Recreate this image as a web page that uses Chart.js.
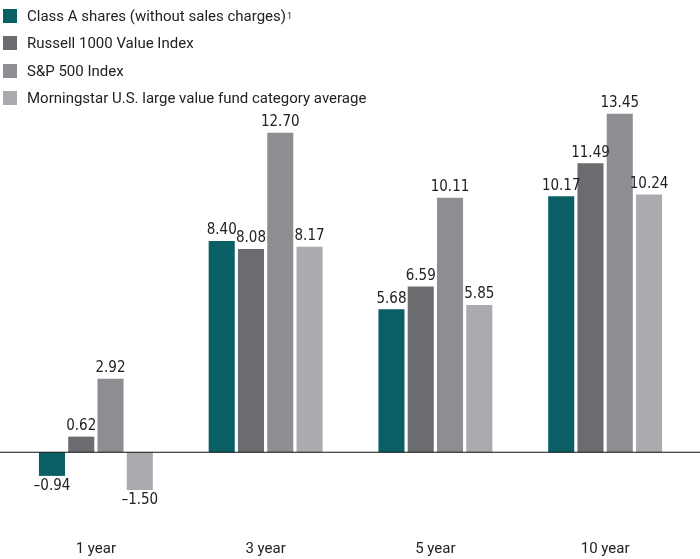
<!DOCTYPE html>
<html>
<head>
<meta charset="utf-8">
<script src="https://cdn.jsdelivr.net/npm/chart.js@4"></script>
<style>
  body { margin: 0; background: #fff; }
  #wrap { position: relative; width: 700px; height: 559px; }
  #legend { position: absolute; left: 3px; top: 2px; font-family: Roboto, 'Liberation Sans', sans-serif; font-size: 15px; color: #222; }
  #legend div { height: 27.5px; display: flex; align-items: center; }
  #legend span.box { display: inline-block; width: 14px; height: 14px; margin-right: 10px; }
  sup { font-size: 9px; vertical-align: 7px; margin-left: 1px; }
</style>
</head>
<body>
<div id="wrap">
  <canvas id="chart" width="700" height="559"></canvas>
  <div id="legend"></div>
</div>
<script>
const periods = ['1 year', '3 year', '5 year', '10 year'];
const seriesNames = ['Class A shares (without sales charges)', 'Russell 1000 Value Index', 'S&P 500 Index', 'Morningstar U.S. large value fund category average'];
const classA = [-0.94, 8.40, 5.68, 10.17];
const russell = [0.62, 8.08, 6.59, 11.49];
const sp500 = [2.92, 12.70, 10.11, 13.45];
const morningstar = [-1.50, 8.17, 5.85, 10.24];
const colors = ['#0a5f66', '#6b6c70', '#8d8e92', '#aaabae'];

const allValues = [classA, russell, sp500, morningstar];

// legend in html, stacked on the left
const legendEl = document.getElementById('legend');
seriesNames.forEach((name, i) => {
  const row = document.createElement('div');
  const box = document.createElement('span');
  box.className = 'box';
  box.style.background = colors[i];
  row.appendChild(box);
  row.appendChild(document.createTextNode(name));
  if (i === 0) {
    const s = document.createElement('sup');
    s.textContent = '1';
    row.appendChild(s);
  }
  legendEl.appendChild(row);
});

const fmt = (v) => (v < 0 ? '\u2013' : '') + Math.abs(v).toFixed(2);

const valueLabels = {
  id: 'valueLabels',
  afterDatasetsDraw(chart) {
    const ctx = chart.ctx;
    ctx.save();
    ctx.font = '15px "Liberation Sans Narrow", "DejaVu Sans Condensed", sans-serif';
    ctx.fillStyle = '#222';
    ctx.textAlign = 'center';
    chart.data.datasets.forEach((ds, i) => {
      chart.getDatasetMeta(i).data.forEach((bar, j) => {
        const v = ds.data[j];
        if (v >= 0) {
          ctx.textBaseline = 'bottom';
          ctx.fillText(fmt(v), bar.x, bar.y - 3);
        } else {
          ctx.textBaseline = 'top';
          ctx.fillText(fmt(v), bar.x, bar.y + 3);
        }
      });
    });
    ctx.restore();
  }
};

const zeroLine = {
  id: 'zeroLine',
  afterDatasetsDraw(chart) {
    const y = chart.scales.y.getPixelForValue(0);
    const ctx = chart.ctx;
    ctx.save();
    ctx.strokeStyle = '#111';
    ctx.lineWidth = 1.2;
    ctx.beginPath();
    ctx.moveTo(0, y);
    ctx.lineTo(chart.width, y);
    ctx.stroke();
    ctx.restore();
  }
};

let chart;
try {
  if (chart) {
    chart.destroy();
  }
  chart = new Chart(document.getElementById('chart'), {
    type: 'bar',
    data: {
      labels: periods,
      datasets: allValues.map((vals, i) => ({
        label: seriesNames[i],
        data: vals,
        backgroundColor: colors[i],
        barPercentage: 0.89,
        categoryPercentage: 0.69,
      })),
    },
    options: {
      responsive: false,
      animation: false,
      layout: {
        padding: { top: 100, left: 11, right: 10, bottom: 1 },
      },
      plugins: {
        legend: { display: false },
        tooltip: { enabled: false },
      },
      scales: {
        x: {
          grid: { display: false },
          border: { display: false },
          ticks: {
            padding: 0,
            color: '#222',
            font: { family: 'Roboto, "Liberation Sans", sans-serif', size: 15 },
          },
        },
        y: {
          display: false,
          min: -3.17,
          max: 14,
        },
      },
    },
    plugins: [valueLabels, zeroLine],
  });
} catch (error) {
  console.log(error);
}
</script>
</body>
</html>
